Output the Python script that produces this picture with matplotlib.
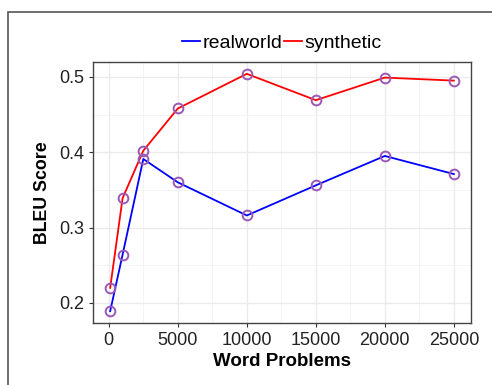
import matplotlib
matplotlib.use("Agg")
import matplotlib.pyplot as plt
from matplotlib.patches import Rectangle

plt.rcParams["font.family"] = ["Liberation Sans", "DejaVu Sans"]

problems = [100, 1000, 2500, 5000, 10000, 15000, 20000, 25000]
realworld = [0.189, 0.264, 0.391, 0.360, 0.316, 0.356, 0.395, 0.371]
synthetic = [0.220, 0.339, 0.402, 0.458, 0.504, 0.469, 0.499, 0.495]

xticks = [0, 5000, 10000, 15000, 20000, 25000]
yticks = [0.2, 0.3, 0.4, 0.5]

fig = plt.figure(figsize=(4.92, 3.85), dpi=100)
ax = fig.add_axes([93 / 492, 1 - 323 / 385, (471 - 93) / 492, (323 - 62) / 385])

# outer frame, partly cut off like in the original
fig.patches.append(Rectangle((8 / 492, -0.1), 1.2, 1 - 12 / 385 + 0.1,
                             transform=fig.transFigure, fill=False,
                             edgecolor="#555555", linewidth=1.2))

ax.plot(problems, realworld, color="#0000ff", lw=1.3, label="realworld")
ax.plot(problems, synthetic, color="#ff0000", lw=1.3, label="synthetic")
ax.plot(problems, realworld, "o", mfc="none", mec="#9b59b6", ms=7, mew=1.4)
ax.plot(problems, synthetic, "o", mfc="none", mec="#9b59b6", ms=7, mew=1.4)

ax.set_xlim(-1145, 26245)
ax.set_ylim(0.1733, 0.5197)
ax.set_xticks(xticks)
ax.set_yticks(yticks)
ax.set_xticks([2500, 7500, 12500, 17500, 22500], minor=True)
ax.set_yticks([0.25, 0.35, 0.45], minor=True)
ax.grid(True, which="major", color="#ebebeb", lw=1.0)
ax.grid(True, which="minor", color="#f2f2f2", lw=0.6)
ax.set_axisbelow(True)
ax.tick_params(which="major", length=3, color="#333333", labelsize=13, labelcolor="#222222")
ax.tick_params(which="minor", length=0)
for s in ax.spines.values():
    s.set_color("#444444")
    s.set_linewidth(1.0)

ax.set_xlabel("Word Problems", fontsize=13.5, fontweight="bold", labelpad=3)
ax.set_ylabel("BLEU Score", fontsize=12.8, fontweight="bold", labelpad=6)

ax.legend(loc="center", bbox_to_anchor=(0.5, 1 + 19 / 261), ncol=2, frameon=False,
          fontsize=14, handlelength=0.9, handletextpad=0.15, columnspacing=0.1,
          borderaxespad=0, borderpad=0)

fig.savefig("out.png", dpi=100)
